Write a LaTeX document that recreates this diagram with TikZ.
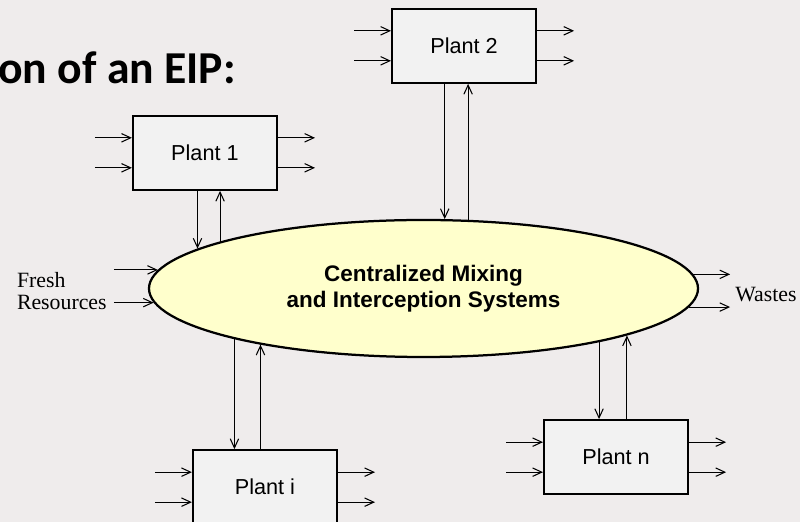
\documentclass[tikz,border=0pt]{standalone}
\usepackage{fontspec}
\setmainfont{Liberation Serif}
\newfontfamily\arialfont{Liberation Sans}
\newfontfamily\calibrifont{Carlito}
\usetikzlibrary{positioning, arrows.meta, shapes.geometric}
\definecolor{paper}{RGB}{239,236,236}
\definecolor{plantgray}{RGB}{242,242,242}
\definecolor{mixyellow}{RGB}{255,255,204}

\begin{document}
\begin{tikzpicture}[
  plant/.style={
    rectangle, draw=black, line width=1.5pt, fill=plantgray,
    minimum width=3.6cm, minimum height=1.85cm, inner sep=0pt,
    font=\arialfont\fontsize{15.4}{18}\selectfont
  },
  mixer/.style={
    ellipse, draw=black, line width=1.6pt, fill=mixyellow,
    minimum width=13.725cm, minimum height=3.425cm, inner sep=0pt,
    align=center, font=\arialfont\bfseries\fontsize{16}{18.3}\selectfont
  },
  sidetext/.style={inner ysep=0pt, align=left,
    font=\fontsize{15.5}{15.6}\selectfont},
  titletext/.style={inner sep=0pt,
    font=\calibrifont\bfseries\fontsize{32.5}{38}\selectfont},
  arrow/.style={-{Straight Barb[length=6.5pt,width=6pt]}, line width=0.75pt}
]
  \fill[paper] (0,0) rectangle (20,13.05);
  \useasboundingbox (0,0) rectangle (20,13.05);

  \node[titletext, anchor=base west] (title) at (-0.05,10.95) {on of an EIP:};

  \node[mixer] (mix) at (10.5875,5.8375) {Centralized Mixing\\and Interception Systems};

  \node[plant, above left=0.7cm and 3.6375cm of mix.north]     (p1) {Plant 1};
  \node[plant, above right=3.375cm and -0.8125cm of mix.north] (p2) {Plant 2};
  \node[plant, below left=2.275cm and 2.1375cm of mix.south]   (pi) {Plant i};
  \node[plant, below right=1.525cm and 2.9875cm of mix.south]  (pn) {Plant n};

  \node[sidetext, left=0.85cm of mix.west, yshift=-0.06cm, inner xsep=0.175cm] (fresh) {Fresh\\Resources};
  \node[sidetext, right=0.775cm of mix.east, yshift=-0.15cm, inner xsep=0.125cm] (waste) {Wastes};

  % streams in and out of each plant
  \foreach \p in {p1,p2,pi,pn}
    \foreach \dy in {0.375,-0.375} {
      \draw[arrow] ([shift={(-0.925,\dy)}]\p.west) -- ([yshift=\dy cm]\p.west);
      \draw[arrow] ([yshift=\dy cm]\p.east) -- ++(0.925,0);
    }

  % exchanges with the central system
  \draw[arrow] (mix.170.57 |- p1.south) -- (mix.170.57);
  \draw[arrow] (mix.167.67) -- (mix.167.67 |- p1.south);
  \draw[arrow] (mix.73.30 |- p2.south) -- (mix.73.30);
  \draw[arrow] (mix.57.25) -- (mix.57.25 |- p2.south);
  \draw[arrow] (mix.195.51) -- (mix.195.51 |- pi.north);
  \draw[arrow] (mix.199.10 |- pi.north) -- (mix.199.10);
  \draw[arrow] (mix.343.90) -- (mix.343.90 |- pn.north);
  \draw[arrow] (mix.347.13 |- pn.north) -- (mix.347.13);

  \draw[arrow] (mix.176.91 -| fresh.east) -- (mix.176.91);
  \draw[arrow] (mix.183.09 -| fresh.east) -- (mix.183.09);
  \draw[arrow] (mix.3.09) -- (mix.3.09 -| waste.west);
  \draw[arrow] (mix.356.91) -- (mix.356.91 -| waste.west);
\end{tikzpicture}
\end{document}
